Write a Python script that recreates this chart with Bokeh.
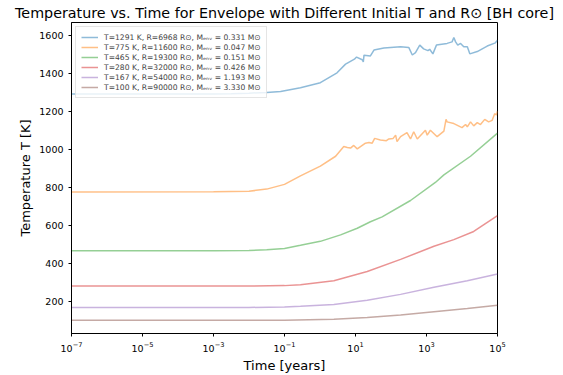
import numpy as np
from bokeh.plotting import figure
from bokeh.models import Range1d, FixedTicker, Legend, LegendItem
from bokeh.embed import file_html
from bokeh.resources import INLINE

# ---- data (log10 of time in years, temperature in K) ----
blue_logt = [-7, -4, -3, -2.5, -2, -1.5, -1.11, -0.55, 0.01, 0.48, 0.72, 0.97, 1.03, 1.19, 1.22, 1.24,
             1.42, 1.52, 1.80, 2.27, 2.50, 2.60, 2.69, 2.81, 2.92, 3.04, 3.09, 3.18, 3.28, 3.58, 3.72,
             3.77, 3.82, 3.88, 3.96, 4.05, 4.15, 4.22, 4.43, 4.71, 4.94, 5.0]
blue_T = [1291, 1291, 1291, 1292, 1295, 1299, 1304, 1324, 1350, 1402, 1448, 1474, 1485, 1471, 1460, 1495,
          1491, 1522, 1533, 1539, 1536, 1496, 1508, 1548, 1528, 1519, 1526, 1502, 1548, 1557, 1565,
          1588, 1565, 1548, 1557, 1539, 1539, 1502, 1514, 1543, 1560, 1574]

orange_logt = [-7, -3, -2, -1.5, -1, -0.55, 0.01, 0.44, 0.67, 0.77, 0.86, 0.95, 1.05, 1.14, 1.28, 1.38,
               1.47, 1.54, 1.70, 1.87, 1.94, 2.06, 2.13, 2.17, 2.27, 2.45, 2.55, 2.64, 2.74, 2.97, 3.02,
               3.11, 3.30, 3.49, 3.55, 3.58, 3.77, 4.00, 4.10, 4.15, 4.24, 4.33, 4.43, 4.52, 4.64, 4.75,
               4.85, 4.92, 4.97, 5.0]
orange_T = [775, 776, 779, 790, 815, 860, 911, 963, 1014, 1009, 1006, 1020, 1002, 1014, 1032, 1035,
            1032, 1057, 1049, 1045, 1054, 1057, 1074, 1040, 1066, 1087, 1054, 1092, 1054, 1100, 1074,
            1100, 1066, 1095, 1157, 1144, 1135, 1114, 1130, 1118, 1144, 1123, 1140, 1130, 1157, 1144,
            1152, 1187, 1180, 1200]

green_logt = [-7, -3, -2, -1.5, -1, -0.55, 0.01, 0.58, 1.05, 1.42, 1.75, 2.55, 3.25, 3.49, 4.24, 5.0]
green_T = [465, 465, 467, 471, 478, 494, 515, 549, 584, 618, 644, 730, 825, 865, 963, 1085]

red_logt = [-7, -2, -1, -0.55, 0.39, 1.33, 2.27, 3.21, 3.77, 4.33, 5.0]
red_T = [280, 280, 282, 286, 308, 356, 420, 489, 524, 567, 650]

purple_logt = [-7, -2, -1, -0.55, 0.39, 1.33, 2.27, 3.21, 4.15, 5.0]
purple_T = [167, 167, 170, 174, 183, 205, 236, 274, 308, 343]

brown_logt = [-7, -1, 0.39, 1.33, 2.27, 3.21, 4.15, 5.0]
brown_T = [100, 100, 105, 114, 127, 145, 162, 179]

labels = [
    "T=1291 K, R=6968 R\u2299, M\u2091\u2099\u1d65 = 0.331 M\u2299",
    "T=775 K, R=11600 R\u2299, M\u2091\u2099\u1d65 = 0.047 M\u2299",
    "T=465 K, R=19300 R\u2299, M\u2091\u2099\u1d65 = 0.151 M\u2299",
    "T=280 K, R=32000 R\u2299, M\u2091\u2099\u1d65 = 0.426 M\u2299",
    "T=167 K, R=54000 R\u2299, M\u2091\u2099\u1d65 = 1.193 M\u2299",
    "T=100 K, R=90000 R\u2299, M\u2091\u2099\u1d65 = 3.330 M\u2299",
]
colors = ["#1f77b4", "#ff7f0e", "#2ca02c", "#d62728", "#9467bd", "#8c564b"]
series = [(blue_logt, blue_T), (orange_logt, orange_T), (green_logt, green_T),
          (red_logt, red_T), (purple_logt, purple_T), (brown_logt, brown_T)]

x_ticks = [1e-7, 1e-5, 1e-3, 1e-1, 1e1, 1e3, 1e5]
y_ticks = [200, 400, 600, 800, 1000, 1200, 1400, 1600]

FONT = "DejaVu Sans"

p = figure(width=563, height=375, x_axis_type="log", output_backend="svg", toolbar_location=None,
           x_range=Range1d(1e-7, 1e5), y_range=Range1d(30, 1667),
           min_border_left=71, min_border_right=66, min_border_top=22, min_border_bottom=36)

p.title.text = "Temperature vs. Time for Envelope with Different Initial T and R\u2299 [BH core]"
p.title.align = "center"
p.title.text_font = FONT
p.title.text_font_size = "14.3px"
p.title.text_font_style = "normal"
p.title.text_color = "black"
p.title.standoff = 3

items = []
for (lt, T), c, lab in zip(series, colors, labels):
    t = [10.0 ** v for v in lt]
    r = p.line(t, T, line_color=c, line_alpha=0.5, line_width=1.5)
    items.append(LegendItem(label=lab, renderers=[r]))

legend = Legend(items=items, location="top_left")
legend.label_text_font = FONT
legend.label_text_font_size = "7.6px"
legend.label_height = 10
legend.glyph_height = 10
legend.glyph_width = 17
legend.label_standoff = 6
legend.spacing = 0
legend.padding = 5
legend.margin = 4
legend.border_line_color = "#cccccc"
legend.background_fill_alpha = 0.8
p.add_layout(legend)

p.grid.visible = False
p.outline_line_color = "black"
p.outline_line_width = 1

p.xaxis.ticker = FixedTicker(ticks=x_ticks, minor_ticks=[])
p.yaxis.ticker = FixedTicker(ticks=y_ticks, minor_ticks=[])
for ax in (p.xaxis[0], p.yaxis[0]):
    ax.major_label_text_font = FONT
    ax.major_label_text_font_size = "9.5px"
    ax.major_label_text_color = "black"
    ax.axis_label_text_font = FONT
    ax.axis_label_text_font_size = "13px"
    ax.axis_label_text_font_style = "normal"
    ax.axis_label_text_color = "black"
    ax.major_tick_out = 3
    ax.major_tick_in = 0
    ax.minor_tick_out = 0
    ax.minor_tick_in = 0
    ax.axis_line_color = "black"
p.xaxis.axis_label = "Time [years]"
p.yaxis.axis_label = "Temperature T [K]"
p.xaxis.axis_label_standoff = 3
p.yaxis.axis_label_standoff = 3

open("out.html", "w").write(file_html(p, INLINE))
